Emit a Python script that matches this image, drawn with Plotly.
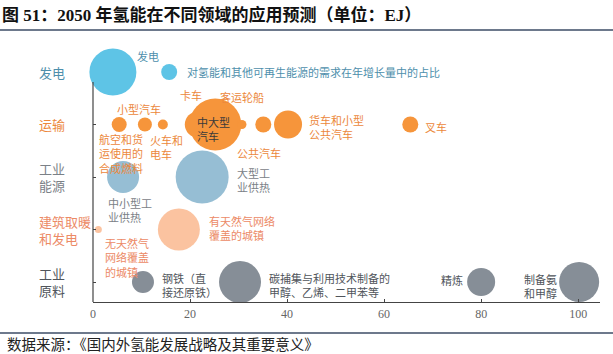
import plotly.graph_objects as go

# ---------------- data ----------------
rows = ["工业原料", "建筑取暖和发电", "工业能源", "运输", "发电"]  # y = 0..4

power_x = [4.1, 15.7]
power_size = [47, 16]

transport_x = [5.4, 10.7, 14.4, 21.6, 25.2, 30.7, 35.1, 40.2, 65.4]
transport_size = [15, 14, 10, 26, 52, 9, 16, 28, 16]

industry_energy_x = [6.2, 22.5]
industry_energy_size = [32, 53]

building_x = [1.1, 17.7]
building_size = [7, 42]

feedstock_x = [10.3, 30.3, 80.0, 100.2]
feedstock_size = [22, 42, 28, 40]

x_ticks = [0, 20, 40, 60, 80, 100]

# ---------------- styles ----------------
C_BLUE = "#5ec4e6"
C_ORANGE = "#f6953b"
C_STEEL = "#96bed4"
C_SALMON = "#fbc3a0"
C_GREY = "#868e97"

T_BLUE = "#4e8fac"
T_ORANGE = "#ec883c"
T_STEEL = "#7b8187"
T_SALMON = "#ec8a66"
T_GREY = "#50555b"

FONT = "Noto Sans CJK SC"

fig = go.Figure()

def add_row(xs, sizes, yv, color):
    fig.add_trace(go.Scatter(
        x=xs, y=[yv] * len(xs), mode="markers",
        marker=dict(size=sizes, sizemode="diameter", color=color, opacity=1,
                    line=dict(width=0)),
        cliponaxis=False, showlegend=False, hoverinfo="skip"))

add_row(power_x, power_size, 4, C_BLUE)
add_row(transport_x, transport_size, 3, C_ORANGE)
add_row(industry_energy_x, industry_energy_size, 2, C_STEEL)
add_row(building_x, building_size, 1, C_SALMON)
add_row(feedstock_x, feedstock_size, 0, C_GREY)

# bubble labels: (text, x, y, color)
labels = [
    ("发电", 8.7, 4.30, T_BLUE),
    ("对氢能和其他可再生能源的需求在年增长量中的占比", 19.0, 4.0, T_BLUE),
    ("卡车", 17.5, 3.56, T_ORANGE),
    ("客运轮船", 25.8, 3.52, T_ORANGE),
    ("小型汽车", 4.5, 3.30, T_ORANGE),
    ("航空和货<br>运使用的<br>合成燃料", 0.8, 2.45, T_ORANGE),
    ("火车和<br>电车", 11.3, 2.57, T_ORANGE),
    ("中大型<br>汽车", 21.0, 2.92, "#3a3a3a"),
    ("公共汽车", 29.3, 2.46, T_ORANGE),
    ("货车和小型<br>公共汽车", 44.1, 2.96, T_ORANGE),
    ("叉车", 68.0, 2.95, T_ORANGE),
    ("大型工<br>业供热", 29.3, 1.94, T_STEEL),
    ("中小型工<br>业供热", 2.7, 1.37, T_STEEL),
    ("有天然气网络<br>覆盖的城镇", 23.5, 1.02, T_SALMON),
    ("无天然气<br>网络覆盖<br>的城镇", 2.06, 0.476, T_SALMON),
    ("钢铁（直<br>接还原铁）", 13.8, -0.06, T_GREY),
    ("碳捕集与利用技术制备的<br>甲醇、乙烯、二甲苯等", 35.9, -0.05, T_GREY),
    ("精炼", 71.3, 0.04, T_GREY),
    ("制备氨<br>和甲醇", 88.5, -0.07, T_GREY),
]
for txt, lx, ly, col in labels:
    fig.add_annotation(x=lx, y=ly, xref="x", yref="y", text=txt, showarrow=False,
                       xanchor="left", yanchor="middle", align="left",
                       font=dict(family=FONT, size=11, color=col))

# row labels
row_label_text = ["工业<br>原料", "建筑取暖<br>和发电", "工业<br>能源", "运输", "发电"]
row_label_color = [T_GREY, T_SALMON, T_STEEL, T_ORANGE, T_BLUE]
for i, (txt, col) in enumerate(zip(row_label_text, row_label_color)):
    fig.add_annotation(x=0, y=i, xref="x", yref="y", text=txt, showarrow=False,
                       xanchor="left", yanchor="middle", align="left", xshift=-56,
                       font=dict(family=FONT, size=13, color=col))

# y axis line (partial)
fig.add_shape(type="line", xref="paper", yref="y", x0=0, x1=0, y0=-0.381, y1=3.81,
              line=dict(color="#444444", width=1.2))

# title, rules, source
fig.add_annotation(xref="paper", yref="paper", x=-93/507, y=1 + (35 - 15) / 267,
                   xanchor="left", yanchor="middle", showarrow=False,
                   text="<b>图 51：2050 年氢能在不同领域的应用预测（单位：EJ）</b>",
                   font=dict(family="Liberation Serif, " + FONT, size=17, color="#111111"))
fig.add_shape(type="line", xref="paper", yref="paper", x0=-93/507, x1=520/507,
              y0=1 + (35 - 30) / 267, y1=1 + (35 - 30) / 267,
              line=dict(color="#3c4c66", width=1.5))
fig.add_shape(type="line", xref="paper", yref="paper", x0=-93/507, x1=520/507,
              y0=-(333 - 302) / 267, y1=-(333 - 302) / 267,
              line=dict(color="#3c4c66", width=1.5))
fig.add_annotation(xref="paper", yref="paper", x=-88/507, y=-(343 - 302) / 267,
                   xanchor="left", yanchor="middle", showarrow=False,
                   text="数据来源：《国内外氢能发展战略及其重要意义》",
                   font=dict(family=FONT, size=14.5, color="#222222"))

fig.update_layout(
    width=613, height=354,
    margin=dict(l=93, r=13, t=35, b=52),
    paper_bgcolor="white", plot_bgcolor="white",
    xaxis=dict(range=[0, 104.5], tickvals=x_ticks, showgrid=False, zeroline=False,
               showline=True, linecolor="#444444", linewidth=1.2,
               ticks="inside", ticklen=3, tickcolor="#444444",
               tickfont=dict(family="Liberation Serif", size=12, color="#666666")),
    yaxis=dict(range=[-0.381, 4.705], tickvals=[0, 1, 2, 3], showticklabels=False,
               showgrid=False, zeroline=False, showline=False,
               ticks="inside", ticklen=3, tickcolor="#444444"),
)

fig.write_html("out.html")
